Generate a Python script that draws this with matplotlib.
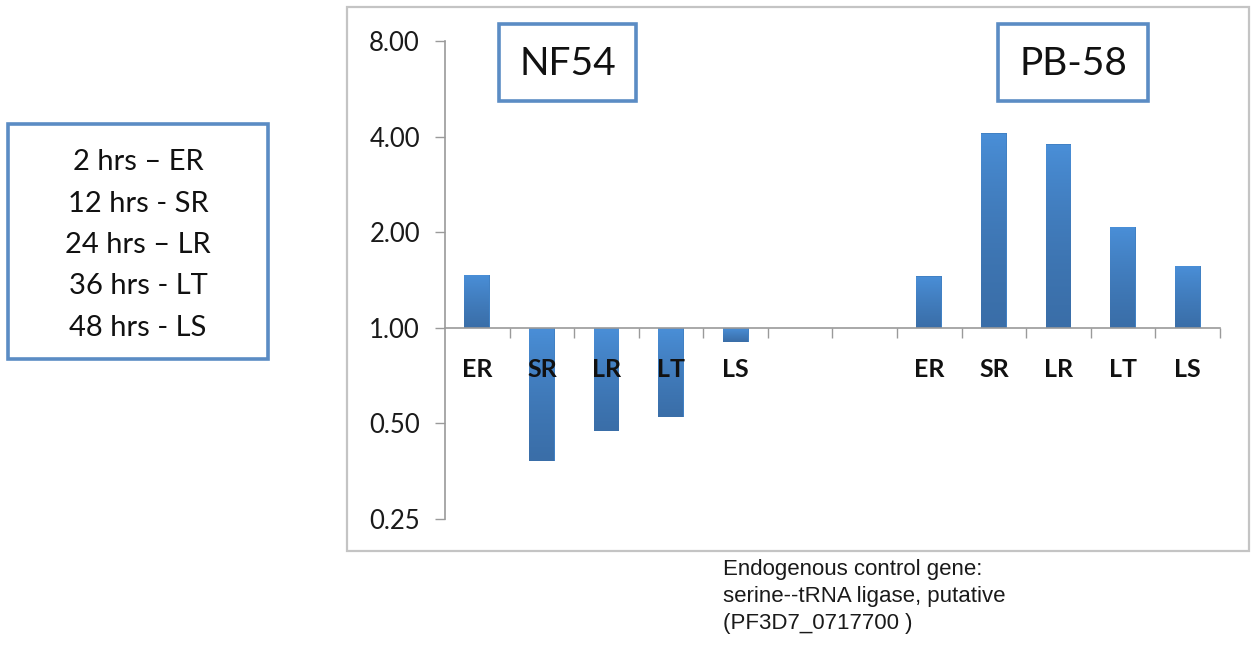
import numpy as np
import matplotlib
matplotlib.use('Agg')
import matplotlib.pyplot as plt
from matplotlib.patches import Rectangle
from matplotlib.colors import LinearSegmentedColormap

# 数据
stages = ['ER', 'SR', 'LR', 'LT', 'LS']
nf54_values = [1.47, 0.38, 0.473, 0.524, 0.905]
pb58_values = [1.456, 4.11, 3.78, 2.08, 1.57]
y_ticks = [0.25, 0.5, 1.0, 2.0, 4.0, 8.0]
legend_lines = ['2 hrs \u2013 ER', '12 hrs - SR', '24 hrs \u2013 LR',
                '36 hrs - LT', '48 hrs - LS']
caption_lines = ['Endogenous control gene:',
                 'serine--tRNA ligase, putative',
                 '(PF3D7_0717700 )']

W, H = 1252, 656


def fx(x):
    return x / W


def fy(y):
    return 1 - y / H


fig = plt.figure(figsize=(W / 100, H / 100), dpi=100)

# 外框
fig.patches.append(Rectangle((fx(347), fy(551)), fx(1249) - fx(347), fy(7) - fy(551),
                             transform=fig.transFigure, fill=False,
                             edgecolor='#c4c4c4', linewidth=1.6))

ax = fig.add_axes([fx(445), fy(519), fx(1220) - fx(445), fy(41) - fy(519)])
ax.set_facecolor('none')

# 类别: NF54 五个, 两个空位, PB-58 五个
labels = stages + ['', ''] + stages
values = nf54_values + [np.nan, np.nan] + pb58_values
x = np.arange(len(labels))

ax.set_yscale('log', base=2)
ax.set_xlim(-0.5, len(labels) - 0.5)
ax.set_ylim(0.25, 8)

# 渐变色柱子
cmap = LinearSegmentedColormap.from_list('bar', ['#3a6ea8', '#4a8fd8'])
grad = np.linspace(0, 1, 256).reshape(-1, 1)
for xi, v in zip(x, values):
    if np.isnan(v):
        continue
    bars = ax.bar(xi, v - 1, bottom=1, width=0.4, color='#4181c4', edgecolor='none', zorder=2)
    b = bars[0]
    lo, hi = min(1, v), max(1, v)
    im = ax.imshow(grad, extent=(xi - 0.2, xi + 0.2, lo, hi), origin='lower',
                   aspect='auto', cmap=cmap, zorder=2.1, interpolation='bilinear')
    im.set_clip_path(b)

ax.set_aspect('auto')
ax.set_xlim(-0.5, len(labels) - 0.5)
ax.set_ylim(0.25, 8)

# y轴
ax.set_yticks(y_ticks)
ax.set_yticklabels(['%.2f' % t for t in y_ticks], fontfamily='Lato', fontsize=18.5, color='#1a1a1a')
ax.yaxis.set_minor_locator(matplotlib.ticker.NullLocator())
ax.tick_params(axis='y', direction='out', length=7, width=1, color='#9a9a9a', pad=11)

# x轴放在 1.00 位置
for s in ['top', 'right']:
    ax.spines[s].set_visible(False)
ax.spines['left'].set_color('#9a9a9a')
ax.spines['bottom'].set_color('#9a9a9a')
ax.spines['left'].set_linewidth(1.2)
ax.spines['bottom'].set_linewidth(1.2)
ax.spines['bottom'].set_position(('data', 1.0))
ax.set_xticks(x)
ax.set_xticklabels(labels, fontfamily='Lato', fontweight='bold', fontsize=18, color='#111111')
ax.set_xticks(np.arange(0.5, len(labels), 1.0), minor=True)
ax.tick_params(axis='x', which='major', length=0, pad=22)
ax.tick_params(axis='x', which='minor', direction='out', length=7, width=1, color='#9a9a9a')
ax.xaxis.set_zorder(5)
ax.spines['bottom'].set_zorder(5)

# 标题框
for (x0, x1, text) in [(499, 636, 'NF54'), (998, 1148, 'PB-58')]:
    fig.patches.append(Rectangle((fx(x0), fy(101)), fx(x1) - fx(x0), fy(24) - fy(101),
                                 transform=fig.transFigure, facecolor='white',
                                 edgecolor='#5b8cc4', linewidth=2.6))
    fig.text(fx((x0 + x1) / 2), fy(64), text, fontfamily='Lato', fontsize=28,
             ha='center', va='center', color='#111111')

# 左侧说明框
fig.patches.append(Rectangle((fx(8), fy(359)), fx(268) - fx(8), fy(124) - fy(359),
                             transform=fig.transFigure, facecolor='white',
                             edgecolor='#5b8cc4', linewidth=2.6))
for i, line in enumerate(legend_lines):
    fig.text(fx(138), fy(162 + i * 41.5), line, fontfamily='Lato', fontsize=21,
             ha='center', va='center', color='#111111')

# 说明文字
for i, line in enumerate(caption_lines):
    fig.text(fx(723), fy(570 + i * 26.5), line, fontfamily='Liberation Sans', fontsize=16,
             ha='left', va='center', color='#1a1a1a')

fig.savefig('out.png', dpi=100)
